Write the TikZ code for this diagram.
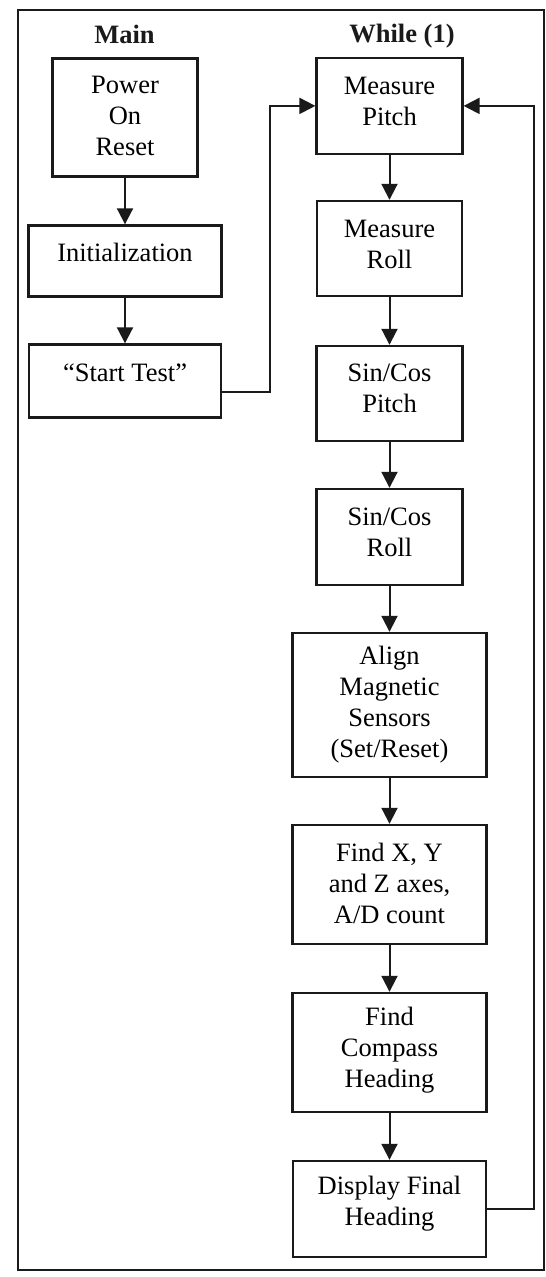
\documentclass[tikz,border=0pt]{standalone}
\usepackage{fontspec}
\setmainfont{Liberation Serif}
\usetikzlibrary{arrows.meta}
\definecolor{ink}{HTML}{1A1A1A}
\begin{document}
\begin{tikzpicture}[x=1pt,y=-1pt,
  stepbox/.style={draw=ink, line width=2.2pt, align=center, inner sep=2pt,
    font=\fontsize{26.5}{31}\selectfont},
  heading/.style={font=\fontsize{26.5}{31}\selectfont\bfseries, inner sep=0pt, text=ink},
  flow/.style={draw=ink, line width=2pt, -{Triangle[length=16pt,width=16pt]}}]

% page and outer frame
\useasboundingbox[fill=white] (0,0) rectangle (546,1277);
\draw[ink, line width=2pt] (17.5,9.5) rectangle (544,1269.5);

% column headings
\node[heading] (hmain)  at (124.5,34.5) {Main};
\node[heading] (hwhile) at (402,36) {While (1)};

% main program
\node[stepbox, minimum width=145pt, minimum height=118pt, text depth=4pt]
  (por) at (125,117.4) {Power\\On\\Reset};
\node[stepbox, minimum width=193pt, minimum height=71pt, text depth=17pt]
  (init) at (125,260.9) {Initialization};
\node[stepbox, minimum width=192pt, minimum height=73pt, text depth=16pt]
  (start) at (125,380.9) {“Start Test”};

% endless loop
\node[stepbox, minimum width=146pt, minimum height=96pt, text depth=10pt]
  (mp) at (389.5,105.9) {Measure\\Pitch};
\node[stepbox, minimum width=145pt, minimum height=95pt, text depth=9pt]
  (mr) at (389.5,248.4) {Measure\\Roll};
\node[stepbox, minimum width=146pt, minimum height=95pt, text depth=11pt]
  (scp) at (389.5,393.4) {Sin/Cos\\Pitch};
\node[stepbox, minimum width=146pt, minimum height=96pt, text depth=10pt]
  (scr) at (389.5,536.9) {Sin/Cos\\Roll};
\node[stepbox, minimum width=194pt, minimum height=144pt]
  (align) at (389.5,704.9) {Align\\Magnetic\\Sensors\\(Set/Reset)};
\node[stepbox, minimum width=194pt, minimum height=119pt, text depth=3pt]
  (axes) at (389.5,884.4) {Find X, Y\\and Z axes,\\A/D count};
\node[stepbox, minimum width=194pt, minimum height=119pt, text depth=9.75pt]
  (compass) at (389.5,1052.4) {Find\\Compass\\Heading};
\node[stepbox, minimum width=193pt, minimum height=96pt, text depth=15.75pt]
  (disp) at (389.5,1208.9) {Display Final\\Heading};

% routing points
\coordinate (jump) at (269.5,250);
\coordinate (back) at (533.7,650);

% connectors
\draw[flow] (por) -- (init);
\draw[flow] (init) -- (start);
\draw[flow] ([yshift=-11pt]start.east) -| (jump) |- (mp.west);
\draw[flow] (mp) -- (mr);
\draw[flow] (mr) -- (scp);
\draw[flow] (scp) -- (scr);
\draw[flow] (scr) -- (align);
\draw[flow] (align) -- (axes);
\draw[flow] (axes) -- (compass);
\draw[flow] (compass) -- (disp);
\draw[flow] (disp.east) -| (back) |- (mp.east);
\end{tikzpicture}
\end{document}
